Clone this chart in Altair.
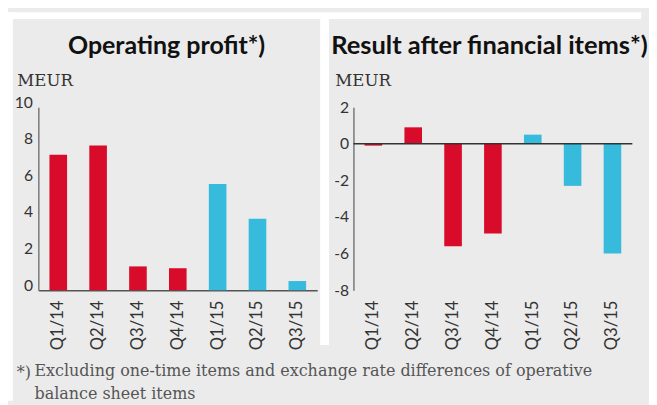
import altair as alt
import pandas as pd

quarters = ["Q1/14", "Q2/14", "Q3/14", "Q4/14", "Q1/15", "Q2/15", "Q3/15"]
years = ["2014", "2014", "2014", "2014", "2015", "2015", "2015"]
operating_profit = [7.4, 7.9, 1.3, 1.2, 5.8, 3.9, 0.5]
result_after_fin = [-0.1, 0.9, -5.6, -4.9, 0.5, -2.3, -6.0]

left_ticks = [0, 2, 4, 6, 8, 10]
right_ticks = [-8, -6, -4, -2, 0, 2]

TITLE_LEFT = "Operating profit*)"
TITLE_RIGHT = "Result after financial items*)"
FOOT_MARK = "*)"
FOOTNOTE = ["Excluding one-time items and exchange rate differences of operative",
            "balance sheet items"]

RED = "#d80c2a"
CYAN = "#37bbdc"
BG = "#ebebeb"

df = pd.DataFrame({"quarter": quarters, "year": years,
                   "op": operating_profit, "res": result_after_fin})
one = pd.DataFrame({"v": [0]})

color = alt.Color("year:N", scale=alt.Scale(domain=["2014", "2015"], range=[RED, CYAN]), legend=None)
xscale = alt.Scale(paddingInner=0.558, paddingOuter=0.279)

W, H = 285, 187


def xaxis(show_domain):
    kw = dict(labelAngle=270, labelAlign="right", labelBaseline="middle", labelPadding=10,
              ticks=False, title=None, labelFontSize=17)
    if show_domain:
        kw.update(domainColor="#555", domainWidth=1.5)
    else:
        kw.update(domain=False)
    return alt.Axis(**kw)


def title_mark(text, x, size):
    return alt.Chart(one).mark_text(
        text=text, font="Lato", fontSize=size, fontWeight="bold", color="#111",
        align="center", baseline="middle").encode(x=alt.value(x), y=alt.value(-62))


def white_box(x, x2, y, y2):
    # panel frame decoration: white page strips and the white gap between the panels
    return alt.Chart(one).mark_rect(color="white").encode(
        x=alt.value(x), x2=alt.value(x2), y=alt.value(y), y2=alt.value(y2))


top_strip = white_box(-31, 616, -97, -90)
left_strip = white_box(-31, -26, -97, 300)
gap = white_box(288, 297, -90, 243)

foot_mark = alt.Chart(one).mark_text(
    text=FOOT_MARK, font="DejaVu Serif", fontSize=16.3, color="#555",
    align="left", baseline="middle").encode(x=alt.value(-22), y=alt.value(272))
foot_text = alt.Chart(one).mark_text(
    text=FOOTNOTE, font="DejaVu Serif", fontSize=16.3, color="#555", lineHeight=23,
    align="left", baseline="top").encode(x=alt.value(-4), y=alt.value(262))

bars_left = alt.Chart(df).mark_bar().encode(
    x=alt.X("quarter:N", sort=quarters, scale=xscale, axis=xaxis(True)),
    y=alt.Y("op:Q", scale=alt.Scale(domain=[0, 10], nice=False),
            axis=alt.Axis(values=left_ticks, title="MEUR", titleX=-22, titleY=-27,
                          labelBaseline="alphabetic", labelPadding=6, labelOverlap=False)),
    color=color,
)

left = alt.layer(top_strip, left_strip, gap, bars_left, title_mark(TITLE_LEFT, 131, 25.5),
                 foot_mark, foot_text).properties(width=W, height=H)

right_scale = alt.Scale(domain=[-8, 2], nice=False)
right_axis = alt.Axis(values=right_ticks, title="MEUR", titleX=-19, titleY=-27,
                      labelExpr="'' + datum.value", labelPadding=5, labelOverlap=False)

bars_right = alt.Chart(df).mark_bar().encode(
    x=alt.X("quarter:N", sort=quarters, scale=xscale, axis=xaxis(False)),
    y=alt.Y("res:Q", scale=right_scale, axis=right_axis),
    color=color,
)
zero_rule = alt.Chart(one).mark_rule(color="#333", strokeWidth=1.5).encode(
    y=alt.Y("v:Q", scale=right_scale, axis=right_axis))

right = alt.layer(bars_right, zero_rule, title_mark(TITLE_RIGHT, 139, 26)).properties(
    width=W, height=H)

chart = alt.hconcat(left, right, spacing=37, bounds="flush").properties(
    padding={"left": 0, "top": 0, "right": 0, "bottom": 0},
    background=BG,
).configure_view(stroke=None).configure_axis(
    grid=False, ticks=False, domainColor="#777", domainWidth=1.5, labelOverlap=False,
    labelFont="Lato", labelFontSize=16, labelColor="#333", labelFontWeight="normal",
    titleAngle=0, titleAlign="left", titleBaseline="middle",
    titleFont="DejaVu Serif", titleFontWeight="normal", titleFontSize=17, titleColor="#333",
)

chart.save("out.html", embed_options={"renderer": "svg", "actions": False})
